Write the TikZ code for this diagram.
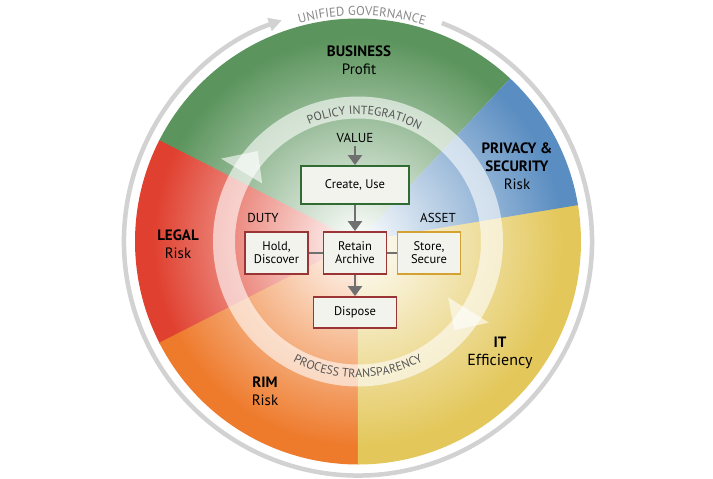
\documentclass[tikz,border=0pt]{standalone}
\usepackage{fontspec}
\setmainfont{PT Sans}
\usepackage{tikz}
\usetikzlibrary{arrows.meta,decorations.text}

\definecolor{bizgreen}{HTML}{5B945C}
\definecolor{privblue}{HTML}{5A8DC1}
\definecolor{itgold}{HTML}{E3C75A}
\definecolor{rimorange}{HTML}{EE7A2B}
\definecolor{legalred}{HTML}{E0402F}
\definecolor{boxfill}{HTML}{F3F3EE}
\definecolor{govgray}{HTML}{D2D2D2}
\definecolor{govtext}{HTML}{8A8A8A}
\definecolor{ringgray}{HTML}{555555}
\definecolor{flowgray}{HTML}{707070}
\definecolor{greenline}{HTML}{2F6B33}
\definecolor{redline}{HTML}{9B3434}
\definecolor{goldline}{HTML}{D3A233}
\colorlet{sectcol}{white}

% white in the middle, full colour a little inside the rim
\pgfdeclareradialshading[sectcol]{sectfade}{\pgfpoint{0bp}{0bp}}{color(0bp)=(white); color(23bp)=(sectcol); color(50bp)=(sectcol)}

\newcommand\ringfont{\fontsize{12}{12}\selectfont}
\newcommand\govfont{\fontsize{12.8}{13}\selectfont}
\newcommand\boxfont{\fontsize{12.5}{13}\selectfont}
\newcommand\tagfont{\fontsize{13}{14}\selectfont}
\newcommand\sectfont{\fontsize{15}{18}\selectfont}

\tikzset{
  stagebox/.style={draw=#1, line width=1.9pt, fill=boxfill, align=center, font=\boxfont, inner sep=0pt},
  flow/.style={draw=flowgray, line width=2.8pt, ->, >={Triangle[length=10pt,width=14pt]}},
  link/.style={draw=flowgray, line width=2.2pt},
  sectlabel/.style={align=center, font=\sectfont},
  govline/.style={draw=govgray, line width=4.5pt, ->, >={Triangle[length=13pt,width=13pt]}},
  ringwhite/.style={fill=white, opacity=0.6},
  arctext/.style={decorate, decoration={text along path, text align=center, text color=#1}},
}

\begin{document}
\begin{tikzpicture}[x=1pt,y=1pt]
		\def\rdisk{223}
		%Canvas
		\useasboundingbox (-358,-237.5) rectangle (355,241.5);
		\fill[white] (-358,-237.5) rectangle (355,241.5);
		%Sectors
		\foreach \a/\b/\col in {47/153.3/bizgreen,153/207.3/legalred,207/270.3/rimorange,270/369.7/itgold,369.4/407/privblue}{
			\begin{scope}
				\clip (0,0) -- (\a:\rdisk) arc[start angle=\a, end angle=\b, radius=\rdisk] -- cycle;
				\colorlet{sectcol}{\col}
				\shade[shading=sectfade] (0,0) circle (\rdisk);
			\end{scope}
		}
		%Inner cycle
		\fill[ringwhite, even odd rule] (0,0) circle (145) circle (123);
		\fill[ringwhite] (148.8:112) -- (137.9:135) -- (148.8:160) -- cycle;
		\fill[ringwhite] (-31.8:106) -- (-42.6:131) -- (-31.8:154) -- cycle;
		\path[arctext=ringgray, decoration={text={|\ringfont|POLICY INTEGRATION}}] (147:127) arc[start angle=147, end angle=27, radius=127];
		\path[arctext=ringgray, decoration={text={|\ringfont|PROCESS TRANSPARENCY}}] (210:136) arc[start angle=210, end angle=330, radius=136];
		%Governance
		\draw[govline] (69:234) arc[start angle=69, end angle=-251, radius=234];
		\path[arctext=govtext, decoration={text={|\govfont|UNIFIED GOVERNANCE}}] (130:226) arc[start angle=130, end angle=48, radius=226];
		%Sector labels
		\node[sectlabel] (business) at (1,181) {\textbf{BUSINESS}\\Profit};
		\node[sectlabel] (privacy) at (159,75) {\textbf{PRIVACY \&}\\\textbf{SECURITY}\\Risk};
		\node[sectlabel] (legal) at (-180,-2.5) {\textbf{LEGAL}\\Risk};
		\node[sectlabel] (rim) at (-93,-150) {\textbf{RIM}\\Risk};
		\node[sectlabel] (it) at (142,-111) {\textbf{IT}\\{\fontsize{16}{18}\selectfont Efficiency}};
		%Stages
		\node[font=\tagfont] (value) at (-3,104) {VALUE};
		\node[font=\tagfont] (duty) at (-95,23.5) {DUTY};
		\node[font=\tagfont] (asset) at (80,23.5) {ASSET};
		\node[stagebox=greenline, minimum width=108pt, minimum height=38pt] (create) at (-3,56.5) {Create, Use};
		\node[stagebox=redline, minimum width=63pt, minimum height=42pt] (retain) at (-3,-11.5) {Retain\\Archive};
		\node[stagebox=redline, minimum width=63pt, minimum height=42pt] (hold) at (-81.5,-11.5) {Hold,\\Discover};
		\node[stagebox=goldline, minimum width=63pt, minimum height=42pt] (store) at (71,-11.5) {Store,\\Secure};
		\node[stagebox=redline, minimum width=83pt, minimum height=31pt] (dispose) at (-3,-71) {Dispose};
		%Connectors
		\draw[flow] (value) -- (create);
		\draw[flow] (create) -- (retain);
		\draw[flow] (retain) -- (dispose);
		\draw[link] (hold) -- (retain);
		\draw[link] (retain) -- (store);
\end{tikzpicture}
\end{document}
